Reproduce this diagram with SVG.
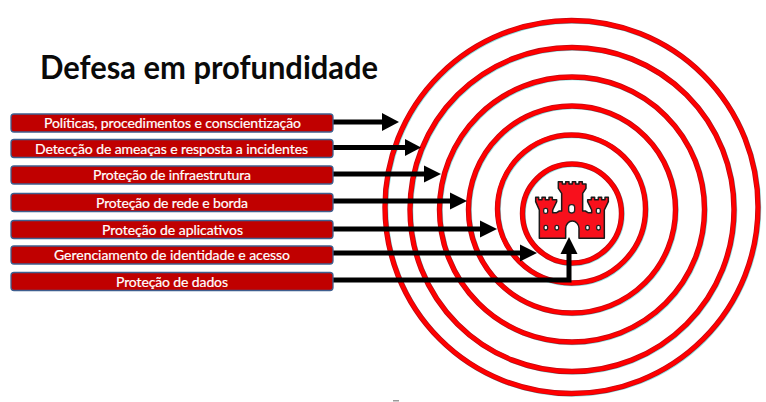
<svg xmlns="http://www.w3.org/2000/svg" width="766" height="402" viewBox="0 0 766 402">
<style>
.s{fill:none;stroke:#5fd8d8;stroke-width:5;opacity:.7}
.e{fill:none;stroke:#c00812;stroke-width:5.4}
.c{fill:none;stroke:#ff0000;stroke-width:3.8}
.b{fill:#c00000;stroke:#3f5f8f;stroke-width:1.3}
.t{font-family:"Lato","Noto Sans",sans-serif;font-size:14px;fill:#fff;stroke:#fff;stroke-width:.2;text-anchor:middle}
.l{fill:none;stroke:#000;stroke-width:5}
.h{fill:#000}
.w{fill:#fff;stroke:#222;stroke-width:4}
</style>
<rect width="766" height="402" fill="#fff"/>
<text id="title" x="40" y="79" font-family="Lato,'Noto Sans',sans-serif" font-weight="700" font-size="32" textLength="338" lengthAdjust="spacingAndGlyphs" fill="#0a0a0a">Defesa em profundidade</text>
<g id="rings">
<g transform="translate(0.8,0.8)">
<circle class="s" cx="571.5" cy="207" r="186.5"/><circle class="s" cx="572" cy="209.5" r="162"/><circle class="s" cx="572" cy="209.5" r="132.5"/><circle class="s" cx="572" cy="209.5" r="103.5"/><circle class="s" cx="571.5" cy="209" r="74"/><circle class="s" cx="572" cy="213.5" r="49.5"/>
</g>
<circle class="e" cx="571.5" cy="207" r="186.5"/><circle class="e" cx="572" cy="209.5" r="162"/><circle class="e" cx="572" cy="209.5" r="132.5"/><circle class="e" cx="572" cy="209.5" r="103.5"/><circle class="e" cx="571.5" cy="209" r="74"/><circle class="e" cx="572" cy="213.5" r="49.5"/>
<circle class="c" cx="571.5" cy="207" r="186.5"/><circle class="c" cx="572" cy="209.5" r="162"/><circle class="c" cx="572" cy="209.5" r="132.5"/><circle class="c" cx="572" cy="209.5" r="103.5"/><circle class="c" cx="571.5" cy="209" r="74"/><circle class="c" cx="572" cy="213.5" r="49.5"/>
</g>
<g id="castle" transform="translate(500,160) scale(.3333)">
<path d="M118 235V150L107 125V112H116V119H126V112H136V119H147V112H157V119H170V125L158 150V158H170L178 153H185V100L175 85V65H187V72H197V65H207V72H217V65H227V72H237V65H247V72H258V85L248 100V153H256L264 158H275V150L263 125V119H274V112H284V119H295V112H305V119H315V112H325V125L313 150V235H237V205A20 22 0 0 0 197 205V235Z" fill="#f8101c" stroke="#1a1a1a" stroke-width="4.500" stroke-linejoin="round"/>
<rect class="w" x="131" y="145" width="12" height="15" rx="5"/>
<rect class="w" x="289" y="145" width="12" height="15" rx="5"/>
<rect class="w" x="206" y="134" width="18" height="25" rx="8"/>
<rect class="w" x="132" y="196" width="11" height="14" rx="5"/>
<rect class="w" x="165" y="196" width="11" height="14" rx="5"/>
<rect class="w" x="257" y="196" width="11" height="14" rx="5"/>
<rect class="w" x="290" y="196" width="11" height="14" rx="5"/>
</g>
<g id="connectors">
<path class="l" d="M333 122H385"/><path class="h" d="M382 113L399 122L382 131Z"/>
<path class="l" d="M333 147.500H408"/><path class="h" d="M405 139L421 147.500L405 156Z"/>
<path class="l" d="M333 174H427"/><path class="h" d="M424 165.500L441 174L424 182.500Z"/>
<path class="l" d="M333 201H453"/><path class="h" d="M450 192.500L467 201L450 209.500Z"/>
<path class="l" d="M333 229H483"/><path class="h" d="M480 220.500L497 229L480 237.500Z"/>
<path class="l" d="M333 253H523"/><path class="h" d="M520 244.500L537 253L520 261.500Z"/>
<path class="l" d="M333 280H569V251"/><path class="h" d="M560.500 254L569 237L577.500 254Z"/>
</g>
<g id="n1"><rect class="b" x="11" y="114" width="322" height="18" rx="3"/><text class="t" x="172.500" y="128" textLength="257">Políticas, procedimentos e conscientização</text></g>
<g id="n2"><rect class="b" x="11" y="139.500" width="322" height="18" rx="3"/><text class="t" x="171.500" y="153.500" textLength="273">Detecção de ameaças e resposta a incidentes</text></g>
<g id="n3"><rect class="b" x="11" y="166" width="322" height="18" rx="3"/><text class="t" x="172" y="180" textLength="158">Proteção de infraestrutura</text></g>
<g id="n4"><rect class="b" x="11" y="193.500" width="322" height="18" rx="3"/><text class="t" x="172" y="207.500" textLength="152">Proteção de rede e borda</text></g>
<g id="n5"><rect class="b" x="11" y="220.500" width="322" height="18" rx="3"/><text class="t" x="172.500" y="234.500" textLength="141">Proteção de aplicativos</text></g>
<g id="n6"><rect class="b" x="11" y="246" width="322" height="18" rx="3"/><text class="t" x="172" y="260" textLength="236">Gerenciamento de identidade e acesso</text></g>
<g id="n7"><rect class="b" x="11" y="272.500" width="322" height="18" rx="3"/><text class="t" x="172" y="286.500" textLength="112">Proteção de dados</text></g>
<rect x="393" y="400" width="6" height="1.500" fill="#999"/>
</svg>
